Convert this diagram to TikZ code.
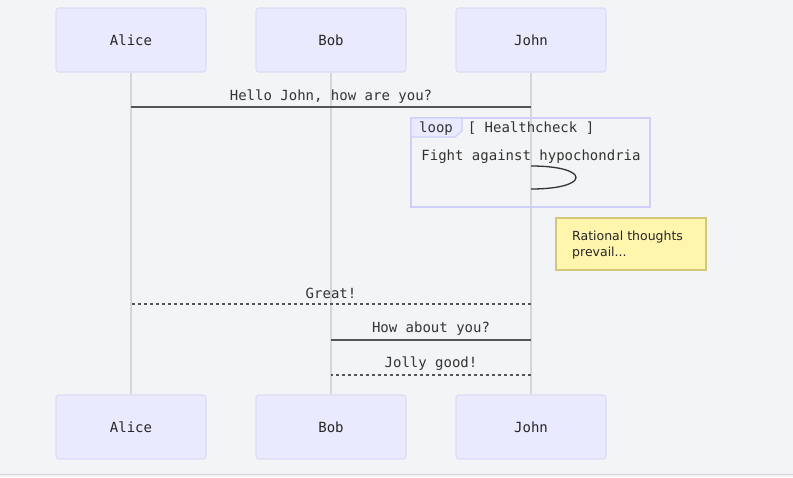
\documentclass[tikz,border=0pt]{standalone}
\usepackage{fontspec}
\setmainfont{DejaVu Sans}
\setmonofont{DejaVu Sans Mono}
\definecolor{bgcol}{HTML}{F3F4F5}
\definecolor{actorfill}{HTML}{EAEAFF}
\definecolor{actorline}{HTML}{DCDCF6}
\definecolor{lifecol}{HTML}{D6D6DA}
\definecolor{msgcol}{HTML}{555555}
\definecolor{loopline}{HTML}{CFCFF8}
\definecolor{notefill}{HTML}{FFF5AD}
\definecolor{noteline}{HTML}{D2C87A}
\usetikzlibrary{calc, positioning}

\begin{document}
\begin{tikzpicture}[
    x=1pt, y=-1pt,
    actor/.style={fill=actorfill, draw=actorline, line width=1.2pt, rounded corners=3pt,
      minimum width=150pt, minimum height=64pt, inner sep=0pt,
      font=\ttfamily\fontsize{14}{16}\selectfont, text=black!85},
    lifeline/.style={draw=lifecol, line width=1.5pt},
    msg/.style={draw=msgcol, line width=1.6pt},
    reply/.style={msg, dash pattern=on 3pt off 3pt},
    msglabel/.style={font=\ttfamily\fontsize{14}{16}\selectfont, text=black!80, inner sep=0pt},
    notebox/.style={fill=notefill, draw=noteline, line width=1.2pt,
      minimum width=150pt, minimum height=52pt, inner sep=0pt},
  ]
    \useasboundingbox (0,0) rectangle (793,477);
    \fill[bgcol] (0,0) rectangle (793,477);
    \draw[lifecol, line width=1.2pt] (0,474.5) -- (793,474.5);

    % participants, top and bottom
    \node[actor] (alice) at (131,40) {Alice};
    \node[actor] (bob) at (331,40) {Bob};
    \node[actor] (john) at (531,40) {John};
    \node[actor] (alice2) at (131,427) {Alice};
    \node[actor] (bob2) at (331,427) {Bob};
    \node[actor] (john2) at (531,427) {John};

    \draw[lifeline] (alice) -- (alice2);
    \draw[lifeline] (bob) -- (bob2);
    \draw[lifeline] (john) -- (john2);

    % loop frame
    \draw[loopline, line width=1.2pt] (411,118) rectangle (650,207);
    \filldraw[fill=actorfill, draw=loopline, line width=1.2pt]
      (411,118) -- (462,118) -- (462,131) -- (455,137) -- (411,137) -- cycle;
    \node[msglabel] (looptag) at (436,128.5) {loop};
    \node[msglabel] (loopcond) at (531,128.5) {[ Healthcheck ]};
    \node[msglabel] (selflabel) at (531,156.5) {Fight against hypochondria};

    % messages
    \coordinate (hello-a) at (alice |- 0,107);
    \coordinate (hello-j) at (john |- 0,107);
    \coordinate (self-s) at (john |- 0,166);
    \coordinate (self-e) at (john |- 0,189);
    \coordinate (great-j) at (john |- 0,304);
    \coordinate (great-a) at (alice |- 0,304);
    \coordinate (how-b) at (bob |- 0,340);
    \coordinate (how-j) at (john |- 0,340);
    \coordinate (jolly-j) at (john |- 0,375);
    \coordinate (jolly-b) at (bob |- 0,375);

    \draw[msg] (hello-a) -- node[msglabel, above=3pt] {Hello John, how are you?} (hello-j);
    \draw[msg, line width=1.3pt, draw=black!80] (self-s) .. controls ($(self-s)+(60,0)$) and ($(self-e)+(60,0)$) .. (self-e);
    \draw[reply] (great-j) -- node[msglabel, above=5pt] {Great!} (great-a);
    \draw[msg] (how-b) -- node[msglabel, above=4pt] {How about you?} (how-j);
    \draw[reply] (jolly-j) -- node[msglabel, above=4pt] {Jolly good!} (jolly-b);

    % note
    \node[notebox] (note) at (631,244) {};
    \node[anchor=north west, align=left, inner sep=0pt, text=black!85,
      font=\fontsize{12.5}{16}\selectfont] (notetext) at (572,231) {Rational thoughts\\prevail...};
  \end{tikzpicture}
\end{document}
